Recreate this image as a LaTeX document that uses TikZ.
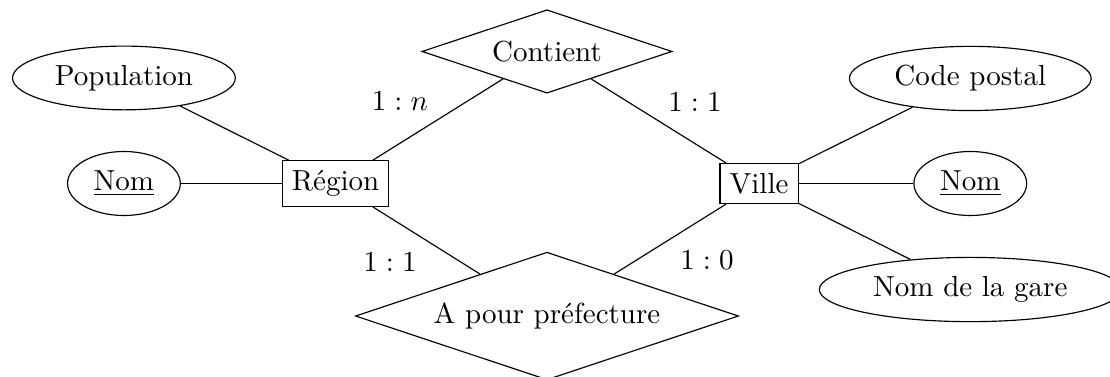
\documentclass[tikz,border=0pt]{standalone}
\usepackage{amsmath}
\usepackage{tikz}
\usetikzlibrary{shapes.geometric}

\begin{document}
\begin{tikzpicture}
\tikzstyle{entite}=[draw,rectangle]
\tikzstyle{attribut}=[draw,ellipse]
\tikzstyle{relation}=[draw,diamond,shape aspect=3]
\useasboundingbox (-6.629,-2.333) rectangle (6.823,2.224);
\node [entite] (region) at (-2.563,0) {Région};
\node [entite] (ville) at (2.57,0) {Ville};
\node [relation] (contient) at (0,1.6) {Contient};
\node [relation] (prefecture) at (0,-1.606) {A pour préfecture};
\node [attribut] (population) at (-5.127,1.279) {Population};
\node [attribut] (nomregion) at (-5.127,0) {\underline{Nom}};
\node [attribut] (codepostal) at (5.13,1.273) {Code postal};
\node [attribut] (nomville) at (5.13,0) {\underline{Nom}};
\node [attribut] (gare) at (5.13,-1.285) {Nom de la gare};
\node (cardrc) at (-1.782,1.0) {$1:n$};
\node (cardvc) at (1.794,0.988) {$1:1$};
\node (cardrp) at (-1.903,-0.951) {$1:1$};
\node (cardvp) at (1.939,-0.927) {$1:0$};
\draw (population) -- (region);
\draw (nomregion) -- (region);
\draw (region) -- (contient);
\draw (region) -- (prefecture);
\draw (contient) -- (ville);
\draw (prefecture) -- (ville);
\draw (ville) -- (codepostal);
\draw (ville) -- (nomville);
\draw (ville) -- (gare);
\end{tikzpicture}
\end{document}
